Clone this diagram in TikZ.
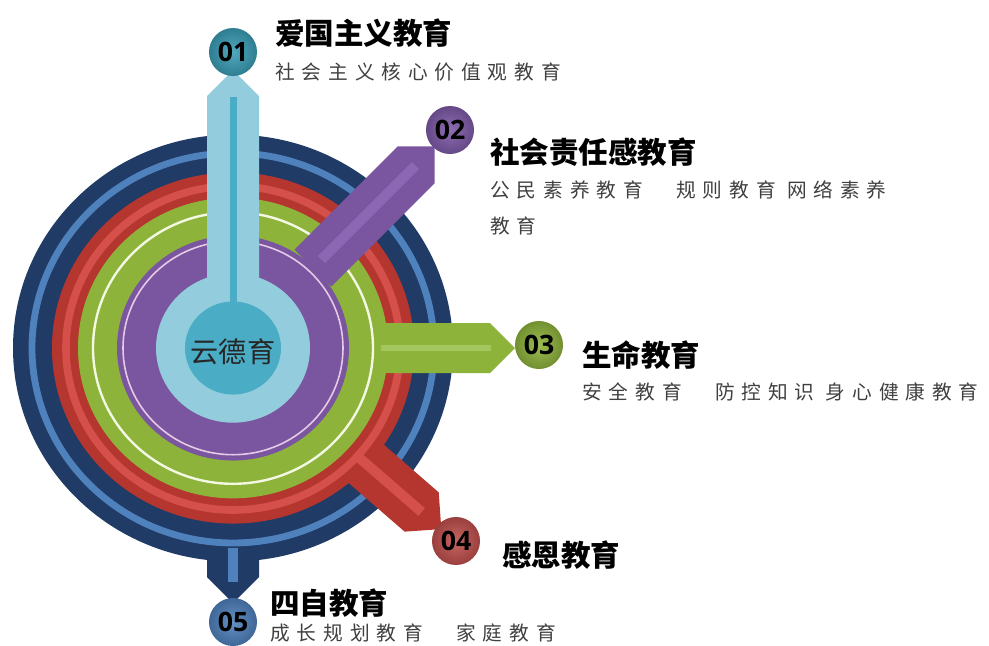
\documentclass[tikz,border=0pt]{standalone}
\usepackage{fontspec}
\setmainfont{Open Sans}
\newfontfamily\cjk{Noto Sans CJK SC}
\newfontfamily\cjksub[LetterSpace=35]{Noto Sans CJK SC}

\definecolor{ringnavy}{HTML}{1F3B66}
\definecolor{navyline}{HTML}{4F81BD}
\definecolor{ringred}{HTML}{B5352F}
\definecolor{redline}{HTML}{D5504A}
\definecolor{ringgreen}{HTML}{8EB33B}
\definecolor{greenline}{HTML}{F2F8E2}
\definecolor{greenstripe}{HTML}{A3C65E}
\definecolor{ringpurple}{HTML}{7A55A0}
\definecolor{purpleline}{HTML}{E6C9E6}
\definecolor{purplestripe}{HTML}{8C68B4}
\definecolor{skyblue}{HTML}{93CDDD}
\definecolor{hubteal}{HTML}{4BACC6}
\definecolor{ballteal}{HTML}{3A9DB5}
\definecolor{ballpurple}{HTML}{7E5AA8}
\definecolor{ballgreen}{HTML}{8EB33B}
\definecolor{ballred}{HTML}{C0504D}
\definecolor{ballblue}{HTML}{4F81BD}

\tikzset{
  ring/.style={shift={(hub)}, yscale=0.97},
  arm/.style={shift={(hub)}, rotate=#1},
  ball/.style={circle, minimum size=1.2cm, inner sep=0pt, shading=radial,
    inner color=#1!88!white, outer color=#1!80!black,
    font=\bfseries\fontsize{19}{19}\selectfont},
  head/.style={anchor=west, inner sep=0pt, font=\cjk\bfseries\fontsize{21}{25}\selectfont},
  note/.style={anchor=west, inner sep=0pt, align=left, text=black!75,
    font=\cjksub\fontsize{14}{25.5}\selectfont},
}

\begin{document}
\begin{tikzpicture}[x=0.025cm, y=-0.025cm]
\useasboundingbox (0,0) rectangle (989,646);
\coordinate (hub) at (233,348);

% navy ring and arm 05
\fill[ringnavy, ring] (0,0) circle (220);
\fill[ringnavy, arm=-90] (181,-26) -- (229,-26) -- (255,0) -- (229,26) -- (181,26) -- cycle;
\fill[navyline, arm=-90] (200,-5) rectangle (234,5);
\draw[navyline, ring, line width=0.17cm] (0,0) circle (201);

% red ring and arm 04
\fill[ringred, ring] (0,0) circle (181);
\fill[ringred, arm=-41] (155,-26) -- (250,-26) -- (276,0) -- (250,26) -- (155,26) -- cycle;
\fill[redline, arm=-41] (167,-5) rectangle (250,5);
\draw[redline, ring, line width=0.19cm] (0,0) circle (167);

% green ring and arm 03
\fill[ringgreen, ring] (0,0) circle (155);
\draw[greenline, ring, line width=0.06cm] (0,0) circle (140);
\fill[ringgreen, arm=0] (146,-25) -- (257,-25) -- (282,0) -- (257,25) -- (146,25) -- cycle;
\fill[greenstripe, arm=0] (148,-3) rectangle (258,3);

% purple ring and arm 02
\fill[ringpurple, ring] (0,0) circle (116);
\draw[purpleline, ring, line width=0.04cm] (0,0) circle (110);
\fill[ringpurple, arm=45] (113,-26) -- (259,-26) -- (285,0) -- (259,26) -- (113,26) -- cycle;
\fill[purplestripe, arm=45] (125,-5) rectangle (258,5);

% light blue disc, arm 01, centre
\fill[skyblue, ring] (0,0) circle (77);
\fill[skyblue, arm=90] (40,-26) -- (252,-26) -- (278,0) -- (252,26) -- (40,26) -- cycle;
\fill[hubteal, arm=90] (30,-3.5) rectangle (251,3.5);
\fill[hubteal, ring] (0,0) circle (48);
\node[font=\cjk\fontsize{20}{20}\selectfont, text=black!85] (hubtext) at (233,352) {云德育};

% numbered balls
\node[ball=ballteal] (b1) at (233,52) {01};
\node[ball=ballpurple] (b2) at (450,130) {02};
\node[ball=ballgreen] (b3) at (539,345) {03};
\node[ball=ballred] (b4) at (456,541) {04};
\node[ball=ballblue] (b5) at (233,622) {05};

% labels
\node[head] (head1) at (275,33) {爱国主义教育};
\node[note] (note1) at (275,72) {社会主义核心价值观教育};
\node[head] (head2) at (490,152) {社会责任感教育};
\node[note] (note2) at (490,208) {公民素养教育　规则教育 网络素养\\教育};
\node[head] (head3) at (582,355) {生命教育};
\node[note] (note3) at (582,392) {安全教育　防控知识 身心健康教育};
\node[head] (head4) at (502,555) {感恩教育};
\node[head] (head5) at (270,603) {四自教育};
\node[note] (note5) at (270,633) {成长规划教育　家庭教育};

\end{tikzpicture}
\end{document}
